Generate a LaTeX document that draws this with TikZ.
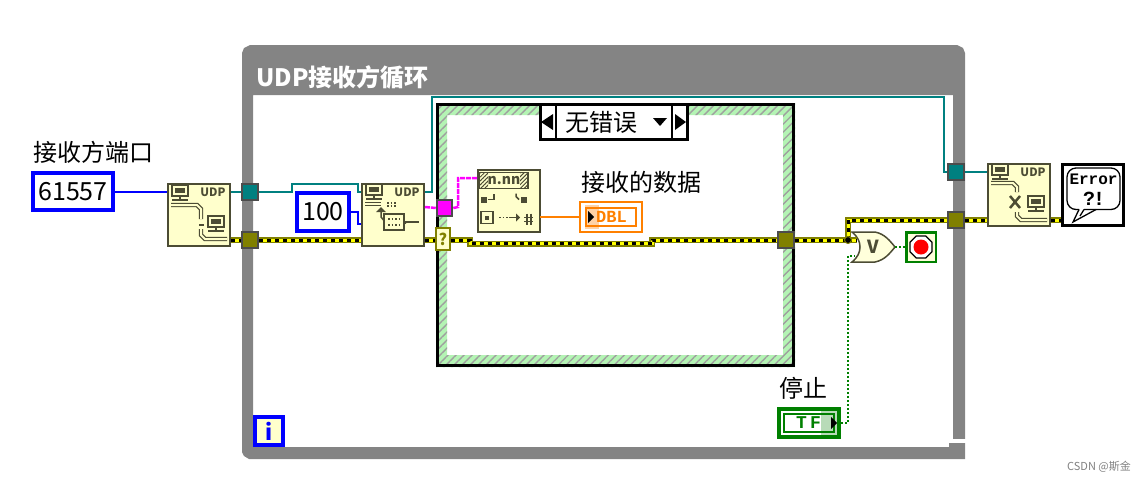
\documentclass[tikz,border=0pt]{standalone}
\usepackage{fontspec}
\setmainfont{Noto Sans CJK SC}
\newfontfamily\monofont{Liberation Mono}
\usepackage{tikz}
\usetikzlibrary{shapes.geometric,patterns.meta}

\definecolor{loopgray}{HTML}{848484}
\definecolor{stripegreen}{HTML}{B4F4B4}
\definecolor{vicream}{HTML}{FFFFCC}
\definecolor{vidark}{HTML}{4C4C34}
\definecolor{tundark}{HTML}{4C4C4C}
\definecolor{errolive}{HTML}{808000}
\definecolor{erryellow}{HTML}{FFFF00}
\definecolor{refteal}{HTML}{008080}
\definecolor{refmagenta}{HTML}{FF00FF}
\definecolor{refblue}{HTML}{0000FF}
\definecolor{refred}{HTML}{FF0000}
\definecolor{boolgreen}{HTML}{008000}
\definecolor{dblorange}{HTML}{FF8000}

\newcommand{\cnfont}{\fontsize{24}{24}\selectfont}

% small computer of the UDP icons
\newcommand{\netcomputer}[2]{
  \draw[iconline] (#1,#2) rectangle +(16,11);
  \fill[vidark] (#1+3,#2+3) rectangle +(10,5);
  \draw[iconline] (#1+8,#2+11) -- +(0,4);
  \draw[iconline] (#1,#2+15) -- +(16,0);
}

\begin{document}
\begin{tikzpicture}[
  x=1pt, y=-1pt,
  vibox/.style={rectangle, draw=vidark, fill=vicream, line width=2pt,
                minimum size=62pt, inner sep=0pt},
  tunnel/.style={rectangle, draw=tundark, line width=2pt,
                 minimum size=15.5pt, inner sep=0pt},
  numconst/.style={rectangle, draw=refblue, fill=white, line width=4pt,
                   inner sep=0pt, font=\fontsize{25}{25}\selectfont},
  label/.style={inner sep=0pt, font=\cnfont},
  udptext/.style={inner sep=0pt, text=vidark,
                  font=\fontsize{11.5}{11.5}\selectfont\bfseries},
  iconline/.style={draw=vidark, line width=1.5pt},
  cable/.style={draw=vidark, line width=1.2pt, double=vicream, double distance=2pt},
  errwire/.style={draw=errolive, line width=6pt,
                  postaction={draw=erryellow, line width=3pt},
                  postaction={draw=black, line width=3pt, dash pattern=on 4pt off 4pt}},
  tealwire/.style={draw=refteal, line width=2pt},
  bluewire/.style={draw=refblue, line width=2pt},
  orangewire/.style={draw=dblorange, line width=2pt},
  pinkwire/.style={draw=refmagenta, line width=2.5pt, dash pattern=on 5pt off 1pt},
  boolwire/.style={draw=boolgreen, line width=1.5pt, dash pattern=on 2pt off 2pt}
]
\useasboundingbox (0,0) rectangle (1145,483);

% while loop frame
\fill[loopgray, even odd rule]
  (242,53) -- (244,48) -- (250,45) -- (957,45) -- (963,48) -- (965,53) -- (965,459)
  -- (249,459) -- (244,456) -- (242,452) -- cycle
  (253,95) rectangle (953,447);
\fill[white] (953,439) rectangle (966,443);
\fill[loopgray] (949,443) rectangle (953,447);
\node[inner sep=0pt, text=white, anchor=west, font=\cnfont\bfseries] (looptitle)
  at (256,77) {UDP接收方循环};

% case structure frame
\fill[stripegreen, even odd rule] (436,103) rectangle (795,367) (447,115) rectangle (783,355);
\fill[pattern={Lines[angle=45,distance=5.66pt,line width=1.4pt]}, pattern color=gray!75, even odd rule]
  (436,103) rectangle (795,367) (447,115) rectangle (783,355);
\draw[black, line width=2.6pt] (437.3,104.3) rectangle (793.7,365.7);

\node[rectangle, draw=black, fill=white, line width=2.6pt, minimum width=147pt,
      minimum height=35pt, inner sep=0pt] (casesel) at (614,122) {};
\draw[black, line width=2.6pt] (556,104) -- (556,140);
\draw[black, line width=2.6pt] (672,104) -- (672,140);
\fill[black] (541,122) -- (553,114) -- (553,130) -- cycle;
\fill[black] (686,122) -- (675,114) -- (675,130) -- cycle;
\fill[black] (653,118) -- (667,118) -- (660,126) -- cycle;
\node[label] (casename) at (601,122) {无错误};

% terminals and constants
\node[label, anchor=west] (portlabel) at (33,152) {接收方端口};
\node[numconst, minimum width=80pt, minimum height=37pt] (portconst) at (73,191.5) {61557};
\node[numconst, minimum width=52pt, minimum height=38pt] (timeout) at (323,212) {100};
\node[label, anchor=west] (datalabel) at (581,182) {接收的数据};
\node[label, anchor=west] (stoplabel) at (779,388) {停止};

% UDP functions
\node[vibox] (udpopen) at (199,215) {};
\node[vibox] (udpread) at (393,215) {};
\node[vibox] (udpclose) at (1019,195) {};
\node[vibox] (fmtvi) at (509,200.5) {};

% tunnels
\node[tunnel, fill=refteal] (tealin) at (250,192) {};
\node[tunnel, fill=errolive] (errin) at (250,240) {};
\node[tunnel, fill=refmagenta] (pinkout) at (444.5,208) {};
\node[tunnel, fill=errolive] (errmid) at (786,240) {};
\node[tunnel, fill=refteal] (tealout) at (956,172) {};
\node[tunnel, fill=errolive] (errout) at (956,220) {};
\node[rectangle, draw=errolive, fill=vicream, line width=2pt, minimum width=14pt,
      minimum height=22pt, inner sep=0pt, text=errolive,
      font=\fontsize{16}{16}\selectfont\bfseries] (errsel) at (443,239) {?};

% DBL indicator
\node[rectangle, draw=dblorange, fill=white, line width=2pt, minimum width=62pt,
      minimum height=30pt, inner sep=0pt] (dblind) at (611,217) {};
\draw[dblorange, line width=2pt] (586,208) rectangle (636,226);
\fill[dblorange, opacity=.35] (585,205) rectangle (599,229);
\fill[black] (588,211) -- (594,217) -- (588,223) -- cycle;
\node[inner sep=0pt, text=dblorange, anchor=west,
      font=\monofont\fontsize{17}{17}\selectfont\bfseries] (dbltext) at (596,217) {DBL};

% stop control
\node[rectangle, draw=boolgreen, fill=white, line width=4pt, minimum width=60pt,
      minimum height=28pt, inner sep=0pt] (stopctl) at (809,423) {};
\draw[boolgreen, line width=2pt] (784,414) rectangle (834,432);
\node[inner sep=0pt, text=boolgreen, anchor=west,
      font=\monofont\fontsize{18}{18}\selectfont\bfseries] (stoptext) at (796,423) {T\,F};
\fill[boolgreen, opacity=.28] (821,411) rectangle (837,435);
\fill[black] (831,417) -- (837,423) -- (831,429) -- cycle;

% stop terminal
\node[rectangle, draw=boolgreen, fill=vicream!70!white, line width=2.5pt, minimum size=29.5pt,
      inner sep=0pt] (stopterm) at (921,247) {};
\node[regular polygon, regular polygon sides=8, draw=black, fill=white, line width=1.2pt,
      minimum size=24pt, inner sep=0pt] (stopoct) at (921,247) {};
\node[circle, fill=refred, minimum size=15pt, inner sep=0pt] (stopdot) at (921,247) {};

% or gate
\coordinate (orout) at (895,247);
\coordinate (orerr) at (857,240);
\coordinate (orbool) at (855,256);
\draw[vidark, fill=vicream!70!white, line width=1.5pt]
  (852,232) -- (875,232) .. controls (885,234) and (890,241) .. (895,247)
  .. controls (890,253) and (885,260) .. (875,262) -- (852,262)
  .. controls (858,257) and (860,252) .. (860,247)
  .. controls (860,242) and (858,237) .. (852,232) -- cycle;
\node[inner sep=0pt, text=vidark, font=\fontsize{18}{18}\selectfont\bfseries] (orname) at (873,247) {V};

% iteration terminal
\node[rectangle, draw=refblue, fill=vicream, line width=4pt, minimum size=28pt,
      inner sep=0pt, text=refblue, font=\fontsize{22}{22}\selectfont\bfseries] (iterterm) at (269,431) {i};

% error handler
\node[rectangle, draw=black, fill=white, line width=3pt, minimum width=61pt,
      minimum height=61pt, inner sep=0pt] (errhandler) at (1093,195) {};
\draw[black, line width=1.3pt, rounded corners=9pt]
  (1084,209.5) -- (1120,209.5) -- (1120,168) -- (1067,168) -- (1067,209.5) -- (1079,209.5);
\draw[black, line width=1.3pt] (1079,209.5) -- (1073,222) -- (1096,209.5);
\draw[black, line width=1.3pt] (1084,209.5) -- (1080,216);
\node[inner sep=0pt, font=\monofont\fontsize{16}{16}\selectfont\bfseries] (errword) at (1093.5,179.5) {Error};
\node[inner sep=0pt, font=\monofont\fontsize{20}{20}\selectfont\bfseries] (errmark) at (1094,199) {?\kern-2pt !};

% icon of open
\begin{scope}[shift={(udpopen.north west)}]
  \netcomputer{5}{2}
  \netcomputer{41}{33}
  \draw[cable] (4,22) -- (30,22) -- (34,26) -- (34,36);
  \fill[vidark] (32,41) rectangle +(5,1.5);
  \draw[cable] (34,46) -- (34,52) -- (38,56) -- (60,56);
  \node[udptext] (openudp) at (46,9) {UDP};
\end{scope}

% icon of read
\begin{scope}[shift={(udpread.north west)}]
  \netcomputer{5}{1}
  \draw[cable] (4,21) -- (20,21);
  \draw[iconline, dotted] (26,20) -- (36,20);
  \draw[iconline, dotted] (26,23) -- (36,23);
  \draw[iconline] (20,29) -- (20,34) -- (25,40) -- (45,40);
  \fill[vidark] (15,29) -- (25,29) -- (20,24) -- cycle;
  \draw[iconline, fill=vicream] (23,31) rectangle (43,47);
  \draw[iconline, dotted] (27,36) -- (39,36);
  \draw[iconline, dotted] (27,42) -- (39,42);
  \draw[iconline] (43,39) -- (58,39);
  \node[udptext] (readudp) at (46,9) {UDP};
\end{scope}

% icon of close
\begin{scope}[shift={(udpclose.north west)}]
  \netcomputer{5}{1}
  \netcomputer{41}{33}
  \draw[cable] (4,20) -- (26,20) -- (30,24) -- (30,29);
  \draw[vidark, line width=2.5pt] (23,33) -- (33,45) (33,33) -- (23,45);
  \draw[cable] (30,49) -- (30,53) -- (34,57) -- (60,57);
  \node[udptext] (closeudp) at (46,9) {UDP};
\end{scope}

% icon of the number format function
\begin{scope}[shift={(fmtvi.north west)}]
  \draw[iconline, fill=vicream] (2,4) rectangle (51,20);
  \fill[pattern={Lines[angle=45,distance=2.8pt,line width=1pt]}, pattern color=vidark] (2,4) rectangle (11,20);
  \fill[pattern={Lines[angle=45,distance=2.8pt,line width=1pt]}, pattern color=vidark] (43,4) rectangle (51,20);
  \node[inner sep=0pt, text=vidark, font=\fontsize{14}{14}\selectfont\bfseries] (fmtname) at (27,12) {n.nn};
  \fill[vidark] (4,28) rectangle +(6,6);
  \draw[iconline] (11,31) -- (17,31) -- (17,25);
  \fill[vidark] (44,28) rectangle +(6,6);
  \draw[iconline] (42,31) -- (39,28) -- (39,25);
  \draw[iconline] (4,43) rectangle (16,55);
  \fill[vidark] (8,47) rectangle +(4,4);
  \draw[iconline, dotted] (22,49) -- (32,49);
  \draw[iconline] (32,49) -- (40,49);
  \fill[vidark] (39,45) -- (43,49) -- (39,53) -- cycle;
  \draw[iconline] (47,49) -- (56,49) (47,53) -- (56,53) (50,45) -- (50,56) (54,45) -- (54,56);
\end{scope}

% wires
\draw[bluewire] (portconst.east) -- (portconst.east -| udpopen.west);
\draw[bluewire] (timeout.east) -- (358,212) -- (358,224) -- (361,224);
\draw[tealwire] (udpopen.east |- tealin.west) -- (tealin.west);
\draw[tealwire] (tealin.east) -- (291.5,192) -- (291.5,184) -- (358,184) -- (358,192) -- (361,192);
\draw[tealwire] (425,192) -- (432,192) -- (432,96.5) -- (944,96.5) -- (944,172) -- (tealout.west);
\draw[tealwire] (tealout.east) -- (tealout.east -| udpclose.west);
\draw[pinkwire] (425,207) -- (pinkout.west);
\draw[pinkwire] (pinkout.east) -- (458,207) -- (458,178) -- (477,178);
\draw[orangewire] (540,217) -- (dblind.west);
\draw[errwire] (udpopen.east |- errin.west) -- (errin.west);
\draw[errwire] (errin.east) -- (errin.east -| udpread.west);
\draw[errwire] (udpread.east |- errin.east) -- (errsel.west |- errin.east);
\draw[errwire] (errsel.east |- errin.east) -- (470,240) -- (470,243.5) -- (652,243.5) -- (652,240) -- (errmid.west);
\coordinate (errjunc) at (848,240);
\draw[errwire] (errmid.east) -- (errjunc);
\draw[errwire] (errjunc) -- (orerr);
\draw[errwire] (errjunc) -- (848,220) -- (errout.west);
\draw[errwire] (errout.east) -- (errout.east -| udpclose.west);
\draw[errwire] (udpclose.east |- errout.east) -- (errhandler.west |- errout.east);
\node[circle, draw=errolive, fill=black, line width=1pt, minimum size=7pt, inner sep=0pt] (errdot) at (errjunc) {};
\draw[boolwire] (orout) -- (stopterm.west);
\draw[boolwire] (stopctl.east) -- (848,423) -- (848,256) -- (orbool);

\node[inner sep=0pt, text=gray, anchor=east, font=\fontsize{11}{11}\selectfont] (watermark) at (1131,467) {CSDN @斯金};
\end{tikzpicture}
\end{document}
